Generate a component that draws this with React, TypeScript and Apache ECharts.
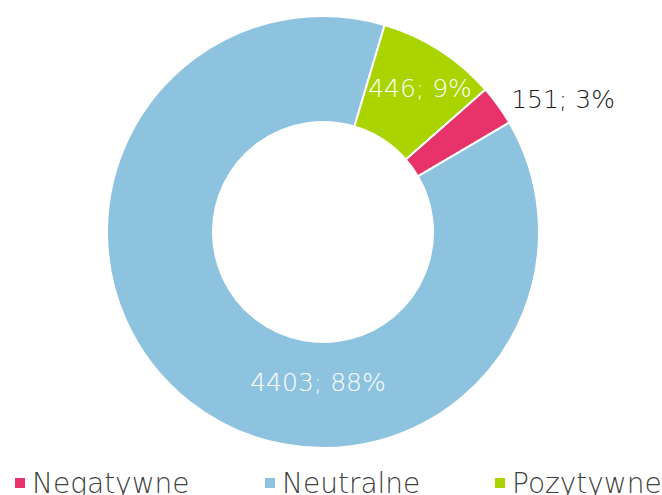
import React, { useEffect, useRef } from "react";
import * as echarts from "echarts";

const categories = ["Negatywne", "Neutralne", "Pozytywne"];
const values = [151, 4403, 446];
const colors = ["#E8336A", "#8EC3DF", "#AAD400"];

const FONT = "DejaVu Sans";

export default function App() {
  const ref = useRef<HTMLDivElement>(null);
  useEffect(() => {
    document.body.style.margin = "0";
    const chart = echarts.init(ref.current!, null, { renderer: "svg" });
    const legendLefts = [8, 258, 488];
    chart.setOption({
      animation: false,
      color: colors,
      legend: categories.map((c, i) => ({
        data: [c],
        left: legendLefts[i],
        top: 464,
        itemWidth: 12,
        itemHeight: 12,
        itemGap: 0,
        icon: "rect",
        textStyle: { fontFamily: FONT, fontSize: 28, fontWeight: 200, color: "#404040", padding: [0, 0, 0, 1] },
      })),
      series: [
        {
          type: "pie",
          center: [323, 232],
          radius: [110, 216],
          startAngle: 41.3,
          clockwise: true,
          itemStyle: { borderColor: "#fff", borderWidth: 2 },
          label: {
            fontFamily: FONT,
            fontSize: 25,
            fontWeight: 200,
            formatter: (p: any) => `${p.value}; ${Math.round(p.percent)}%`,
          },
          labelLine: { show: false, length: 10, length2: 0 },
          labelLayout: (params: any) => {
            if (params.dataIndex === 1) {
              return { x: 318, y: 382, align: "center", verticalAlign: "middle" };
            }
            if (params.dataIndex === 2) {
              return { x: 420, y: 88, align: "center", verticalAlign: "middle" };
            }
            return {};
          },
          data: categories.map((c, i) => ({
            name: c,
            value: values[i],
            label:
              i === 0
                ? { position: "outside", color: "#1a1a1a" }
                : { position: "inside", color: "#ffffff" },
          })),
        },
      ],
    });
    return () => chart.dispose();
  }, []);
  return <div ref={ref} style={{ width: 662, height: 495 }} />;
}
